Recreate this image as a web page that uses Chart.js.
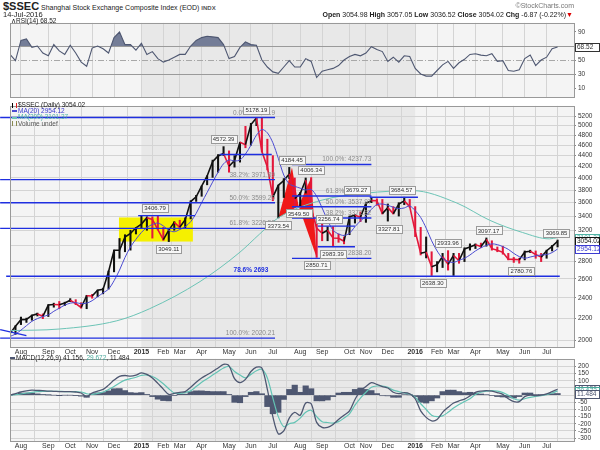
<!DOCTYPE html>
<html>
<head>
<meta charset="utf-8">
<script src="https://cdn.jsdelivr.net/npm/chart.js@4.4.1/dist/chart.umd.min.js"></script>
<style>
body{margin:0;width:600px;height:450px;background:#fff;position:relative;overflow:hidden;font-family:"Liberation Sans",Arial,sans-serif;color:#222}
canvas{position:absolute;left:0}
.t{position:absolute;white-space:nowrap}
.ln{display:inline-block;width:5px;height:2px;vertical-align:middle;margin-right:1px}
.ic{display:inline-block;width:3px;height:5px;vertical-align:middle;margin-right:1px;border-left:1px solid #000;border-right:1px solid #d22}
</style>
</head>
<body>
<canvas id="rsi" width="600" height="86" style="top:17px"></canvas>
<canvas id="price" width="600" height="258" style="top:100px"></canvas>
<canvas id="macd" width="600" height="97" style="top:353px"></canvas>

<div class="t" style="left:3px;top:0;font-size:7px;line-height:12px"><b style="font-size:11px">$SSEC</b> Shanghai Stock Exchange Composite Index (EOD) <b style="font-size:6px;color:#555">INDX</b></div>
<div class="t" style="left:3px;top:10px;font-size:7.5px;line-height:9px">14-Jul-2016</div>
<div class="t" style="right:26px;top:2px;font-size:7px;line-height:8px;color:#777">©StockCharts.com</div>
<div class="t" style="right:27px;top:10px;font-size:7px;line-height:9px"><b>Open</b> 3054.98 <b>High</b> 3057.05 <b>Low</b> 3036.52 <b>Close</b> 3054.02 <b>Chg</b> -6.87 (-0.22%)<span style="color:#d00">▼</span></div>

<div class="t" style="left:11px;top:17px;font-size:6.5px;line-height:8px">∧RSI(14) 68.52</div>
<div class="t" style="left:12px;top:102px;font-size:6.5px;line-height:6.2px">
  <div><span class="ic"></span>$SSEC (Daily) 3054.02</div>
  <div style="color:#3b3bd0"><span class="ln" style="background:#4b4bd2"></span>MA(20) 2954.12</div>
  <div style="color:#4fb3a5"><span class="ln" style="background:#6cc4b6"></span>MA(200) 3101.37</div>
  <div style="color:#555"><span class="ic" style="border-color:#8a8a50"></span>Volume undef</div>
</div>
<div class="t" style="left:10px;top:354px;font-size:6.5px;line-height:8px"><span class="ln" style="background:#4e5771"></span>MACD(12,26,9) 41.156, <span style="color:#4aa99b">29.672</span>, 11.484</div>

<script>
// weekly bars, dated by the last trading day of the week
var weeks = ['2014-07-18','2014-07-25','2014-08-01','2014-08-08','2014-08-15','2014-08-22','2014-08-29','2014-09-05','2014-09-12','2014-09-19','2014-09-26','2014-10-10','2014-10-17','2014-10-24','2014-10-31','2014-11-07','2014-11-14','2014-11-21','2014-11-28','2014-12-05','2014-12-12','2014-12-19','2014-12-26','2014-12-31',
  '2015-01-09','2015-01-16','2015-01-23','2015-01-30','2015-02-06','2015-02-13','2015-02-27','2015-03-06','2015-03-13','2015-03-20','2015-03-27','2015-04-03','2015-04-10','2015-04-17','2015-04-24','2015-04-30','2015-05-08','2015-05-15','2015-05-22','2015-05-29','2015-06-05','2015-06-12','2015-06-19','2015-06-26','2015-07-03','2015-07-10','2015-07-17','2015-07-24','2015-07-31','2015-08-07','2015-08-14','2015-08-21','2015-08-28','2015-09-02','2015-09-11','2015-09-18','2015-09-25','2015-09-30','2015-10-16','2015-10-23','2015-10-30','2015-11-06','2015-11-13','2015-11-20','2015-11-27','2015-12-04','2015-12-11','2015-12-18','2015-12-25','2015-12-31',
  '2016-01-08','2016-01-15','2016-01-22','2016-01-29','2016-02-05','2016-02-19','2016-02-26','2016-03-04','2016-03-11','2016-03-18','2016-03-25','2016-04-01','2016-04-08','2016-04-15','2016-04-22','2016-04-29','2016-05-06','2016-05-13','2016-05-20','2016-05-27','2016-06-03','2016-06-08','2016-06-17','2016-06-24','2016-07-01','2016-07-08','2016-07-14'];
var monthNames = ['Jan','Feb','Mar','Apr','May','Jun','Jul','Aug','Sep','Oct','Nov','Dec'];

var closes = [2059,2126,2186,2188,2226,2240,2217,2326,2331,2329,2347,2374,2341,2302,2420,2418,2478,2487,2683,2938,2938,3108,3157,3234,
  3285,3376,3351,3210,3076,3203,3310,3241,3349,3617,3691,3863,4034,4287,4394,4441,4205,4308,4657,4611,5023,5166,4478,4192,3686,3877,3957,4070,3664,3744,3965,3508,3232,3160,3200,3097,3093,3053,3391,3412,3383,3590,3632,3630,3436,3525,3434,3578,3627,3539,
  3186,2901,2917,2738,2763,2861,2767,2874,2810,2955,2979,3009,2985,3078,2959,2938,2913,2828,2826,2822,2917,2927,2885,2854,2933,2988,3054.02];
var highs = [2070,2130,2210,2200,2230,2248,2240,2330,2345,2362,2355,2391,2380,2350,2425,2435,2480,2500,2690,2940,3090,3140,3200,3240,
  3400,3390,3390,3406.79,3240,3210,3320,3340,3375,3630,3715,3865,4037,4317,4420,4572.39,4490,4400,4660,4986,5051,5178.19,5164,4720,4400,3880,3990,4184.45,4000,3760,4000,4006.34,3360,3310,3250,3250,3150,3110,3400,3420,3460,3596,3679.27,3660,3650,3580,3540,3600,3684.57,3650,
  3540,3240,3110,2920,2800,2900,2933.96,2900,2900,2970,3020,3020,3030,3097.17,3060,2980,2990,2900,2850,2840,2930,2940,2930,2900,2940,3000,3069.85];
var lows = [2040,2052,2140,2160,2180,2220,2195,2215,2305,2290,2320,2360,2330,2295,2290,2395,2410,2440,2490,2680,2840,2920,2940,3150,
  3230,3200,3095,3205,3065,3049.11,3200,3220,3230,3360,3620,3700,3885,4010,4100,4400,4100,4190,4280,4550,4600,5000,4470,4140,3630,3373.54,3680,3990,3537,3549.5,3750,3490,2850.71,3060,3060,2983.39,3040,3020,3140,3300,3320,3310,3600,3560,3430,3327.81,3430,3400,3570,3530,
  3115,2880,2844,2638.3,2680,2730,2700,2638.96,2780,2800,2940,2960,2970,2990,2940,2920,2890,2820,2790,2780.76,2820,2910,2840,2800,2840,2930,2980];
var ma20 = [2035,2055,2090,2130,2170,2195,2215,2230,2265,2295,2325,2345,2350,2340,2345,2370,2410,2450,2490,2580,
  2700,2850,2980,3080,3170,3240,3280,3300,3260,3200,3180,3210,3250,3320,3440,3600,3760,3930,4100,4250,
  4320,4300,4320,4430,4600,4800,4920,4850,4650,4350,4050,3900,3860,3830,3800,3810,3700,3520,3340,3200,
  3150,3130,3160,3250,3330,3400,3500,3570,3580,3560,3530,3510,3520,3550,3480,3380,3230,3060,2930,2840,
  2800,2790,2815,2840,2880,2930,2970,3000,3020,3010,2985,2950,2900,2860,2840,2855,2870,2880,2885,2910,2954.12];
var ma200At = [0,9,19.5,25.5,34.7,42,45.6,49,57,65,73.5,81.6,87.6,93.6,98.5,100];
var ma200 = [2086,2100,2175,2290,2571,2915,3150,3375,3640,3749,3790,3595,3340,3170,3085,3101.37];

var rsi = [58,49,78,80,68,70,60,56,72,63,58,71,60,47,41,67,70,66,60,82,90,72,72,64,74,58,62,52,47,50,
  54,58,58,70,78,82,84,83,82,72,52,55,68,76,72,71,50,40,33,31,40,49,40,40,52,48,25,34,36,38,
  42,50,55,58,56,60,69,65,62,48,54,47,56,55,38,30,27,27,35,43,48,38,46,51,58,59,57,56,59,48,
  49,35,34,36,52,57,42,50,54,66,68.52];
var macd = [0,10,22,30,35,33,31,28,27,25,25,25,22,15,-10,15,28,40,70,105,131,137,133,140,156,145,120,82,42,5,
  12,20,25,55,90,120,142,165,190,215,205,115,87,110,165,195,190,40,-150,-270,-250,-160,-120,-140,-55,-60,-190,-225,-225,-205,
  -170,-140,-110,-30,30,60,87,75,60,50,20,10,18,10,-25,-110,-155,-180,-170,-120,-85,-55,-40,-28,-5,20,28,31,28,18,
  5,-25,-45,-45,-10,0,-4,0,9,25,41.156];
var signal = [0,3,8,15,20,24,26,27,27,26,25,25,24,22,10,5,12,22,40,60,85,105,115,125,138,140,130,110,80,45,
  15,12,18,30,60,90,115,140,165,190,200,165,140,120,145,170,180,120,-20,-150,-220,-200,-190,-160,-120,-105,-150,-185,-191,-195,
  -185,-160,-130,-70,-20,20,55,64,64,55,35,25,15,8,-15,-60,-100,-140,-150,-145,-120,-90,-65,-45,-25,5,20,28,31,28,
  18,0,-25,-35,-25,-15,-8,-4,3,15,29.672];
var hist = [0,7,14,15,15,9,5,1,0,-1,0,0,-2,-7,-15,10,16,18,30,45,46,32,18,15,18,5,-10,-28,-38,-40,
  -3,8,7,25,30,30,27,25,25,25,5,-50,-53,-10,20,25,10,-80,-130,-120,-30,40,70,20,65,45,-40,-40,-34,-10,
  15,20,20,40,50,40,32,11,-4,-5,-15,-15,3,2,-10,-50,-55,-40,-20,25,35,35,25,17,20,15,8,3,-3,-10,
  -13,-15,-20,-10,15,15,4,4,6,10,11.484];

var priceTicks = [2000,2200,2400,2600,2800,3000,3200,3400,3600,3800,4000,4200,4400,4600,4800,5000,5200];
var rsiTicks = [10,30,50,70,90];
var macdTicks = [-300,-250,-200,-150,-100,-50,0,50,100,150,200];

// drawn studies: [fromWeek, level, toWeek, level]
var trendLines = [
  [-1.8,5178.19,48.4,5178.19],[-1.8,3971.89,48.4,3971.89],[-1.8,3599.20,48.4,3599.20],[-1.8,3226.52,48.4,3226.52],
  [-1.8,2020.21,48.4,2020.21],[-0.7,2630,100.4,2630],[-1.8,2095,3,2042],[23.4,3406.79,33.8,3406.79],[38.3,4420,47.8,4420],
  [51.5,4237.73,66,4237.73],[51.5,3703.12,66,3703.12],[51.5,3537.97,66,3537.97],[51.5,3372.82,66,3372.82],[51.5,2838.20,66,2838.20],
  [56.2,3256.74,63,3256.74],[56.2,2983.39,63,2983.39],[65.7,3684.57,74.5,3684.57]
];
var fibTexts = [
  [48.4,5178.19,'0.0%: 5178.19'],[48.4,3971.89,'38.2%: 3971.89'],[48.4,3599.20,'50.0%: 3599.20'],[48.4,3226.52,'61.8%: 3226.52'],
  [48.4,2020.21,'100.0%: 2020.21'],[66,4237.73,'100.0%: 4237.73'],[66,3703.12,'61.8%: 3703.12'],[66,3537.97,'50.0%: 3537.97'],
  [66,3372.82,'38.2%: 3372.82'],[66,2838.20,'0.0%: 2838.20']
];
// pivot labels: week, price, side (1 above, -1 below)
var pivots = [
  [45,5178.19,1],[39,4572.39,1],[26.5,3406.79,1],[29,3049.11,-1],[49,3373.54,-1],[51.5,4184.45,1],[55,4006.34,1],
  [52.7,3549.50,-1],[56,2850.71,-1],[58.2,3256.74,1],[59,2983.39,-1],[63.3,3679.27,1],[71.5,3684.57,1],[69.2,3327.81,-1],
  [77.2,2638.30,-1],[80,2933.96,1],[87.4,3097.17,1],[93.4,2780.76,-1],[99.8,3069.85,1]
];
var harmonic = [[49,3373.54],[51.5,4184.45],[52.7,3549.5],[55,4006.34],[56,2850.71]];
var zone = [19.9,33.4,3050,3380];

var F = '"Liberation Sans", Arial, sans-serif';
var RED = '#e3173a', BLUE = '#1f2fe0';

var monthTicks = [], monthText = {};
weeks.forEach(function (w, i) {
  if (i && w.slice(5, 7) !== weeks[i - 1].slice(5, 7)) {
    var m = +w.slice(5, 7);
    monthTicks.push(i);
    monthText[i] = m === 1 ? w.slice(0, 4) : monthNames[m - 1];
  }
});
var y2015 = weeks.findIndex(function (w) { return w.startsWith('2015'); });
var y2016 = weeks.findIndex(function (w) { return w.startsWith('2016'); });

function xScale(show, h) {
  return {
    type: 'linear', min: 0, max: 103, offset: false,
    afterBuildTicks: function (s) { s.ticks = monthTicks.map(function (v) { return { value: v }; }); },
    afterFit: function (s) { s.height = h; },
    grid: { color: '#d4d4d4', drawTicks: false },
    border: { display: false },
    ticks: {
      display: show, autoSkip: false, maxRotation: 0, padding: 1, color: '#333',
      font: function (c) {
        var t = c.tick ? monthText[c.tick.value] : '';
        return { family: F, size: 7, weight: /^\d{4}$/.test(t || '') ? 'bold' : 'normal' };
      },
      callback: function (v) { return monthText[v] || ''; }
    }
  };
}
function yScale(min, max, list, extra) {
  var s = {
    position: 'right', min: min, max: max,
    afterBuildTicks: function (sc) { sc.ticks = list.map(function (v) { return { value: v }; }); },
    afterFit: function (sc) { sc.width = 26; },
    border: { display: false },
    grid: { color: '#d4d4d4', tickLength: 2, tickColor: '#888' },
    ticks: { color: '#333', padding: 2, autoSkip: false, font: { family: F, size: 6.5 }, callback: function (v) { return String(v); } }
  };
  return Object.assign(s, extra || {});
}
function baseOptions(pad, ys, h, showX) {
  return {
    responsive: false, animation: false, devicePixelRatio: 1,
    layout: { padding: pad },
    plugins: { legend: { display: false }, tooltip: { enabled: false } },
    scales: { x: xScale(showX, h), y: ys }
  };
}

function box(c, x, y, text, stroke, color) {
  c.font = '6px ' + F;
  var w = Math.round(c.measureText(text).width + 4), h = 8;
  var l = Math.round(x - w / 2), t = Math.round(y - h / 2);
  c.fillStyle = '#f7f7f7';
  c.fillRect(l, t, w, h);
  c.strokeStyle = stroke; c.lineWidth = 1;
  c.strokeRect(l + 0.5, t + 0.5, w, h);
  c.fillStyle = color; c.textAlign = 'center'; c.textBaseline = 'middle';
  c.fillText(text, x, y + 0.5);
}

var shade = {
  id: 'shade',
  beforeDraw: function (chart) {
    var a = chart.chartArea, c = chart.ctx, x = chart.scales.x;
    c.save();
    c.fillStyle = '#f4f4f4';
    c.fillRect(a.left, a.top, a.width, a.height);
    var x0 = x.getPixelForValue(y2015), x1 = x.getPixelForValue(y2016);
    c.fillStyle = '#e8e8e8';
    c.fillRect(x0, a.top, x1 - x0, a.height);
    c.restore();
  },
  afterDraw: function (chart) {
    var a = chart.chartArea, c = chart.ctx;
    c.save();
    c.strokeStyle = '#999'; c.lineWidth = 1;
    c.strokeRect(Math.round(a.left) + 0.5, Math.round(a.top) + 0.5, Math.round(a.width), Math.round(a.height));
    c.restore();
  }
};
function axisTags(list) {
  return {
    id: 'axisTags',
    afterDraw: function (chart) {
      var c = chart.ctx, y = chart.scales.y;
      c.save();
      list.forEach(function (t) {
        var py = Math.round(y.getPixelForValue(t[0]));
        c.fillStyle = '#fff';
        c.fillRect(575, py - 4, 25, 8);
        c.strokeStyle = t[2]; c.lineWidth = 1;
        c.strokeRect(575.5, py - 3.5, 24, 8);
        c.fillStyle = t[2]; c.font = '6.5px ' + F; c.textAlign = 'left'; c.textBaseline = 'middle';
        c.fillText(t[1], 577, py + 0.5);
      });
      c.restore();
    }
  };
}

var rsiLines = {
  id: 'rsiLines',
  beforeDatasetsDraw: function (chart) {
    var a = chart.chartArea, c = chart.ctx, y = chart.scales.y;
    c.save();
    c.lineWidth = 1;
    [70, 30, 50].forEach(function (v) {
      var py = Math.round(y.getPixelForValue(v)) + 0.5;
      c.strokeStyle = v === 50 ? '#a8a8a8' : '#9a9a9a';
      c.setLineDash(v === 50 ? [6, 2, 1, 2] : []);
      c.beginPath(); c.moveTo(a.left, py); c.lineTo(a.right, py); c.stroke();
    });
    c.restore();
  }
};

var marks = {
  id: 'marks',
  beforeDatasetsDraw: function (chart) {
    var c = chart.ctx, x = chart.scales.x, y = chart.scales.y;
    c.save();
    var l = x.getPixelForValue(zone[0]), r = x.getPixelForValue(zone[1]);
    var t = y.getPixelForValue(zone[3]), b = y.getPixelForValue(zone[2]);
    c.fillStyle = '#f5f000';
    c.fillRect(l, t, r - l, b - t);
    c.fillStyle = '#f01818';
    [[0, 1, 2], [2, 3, 4]].forEach(function (tri) {
      c.beginPath();
      tri.forEach(function (k, j) {
        var px = x.getPixelForValue(harmonic[k][0]), py = y.getPixelForValue(harmonic[k][1]);
        if (j) c.lineTo(px, py); else c.moveTo(px, py);
      });
      c.closePath(); c.fill();
    });
    c.restore();
  },
  afterDatasetsDraw: function (chart) {
    var c = chart.ctx, x = chart.scales.x, y = chart.scales.y;
    c.save();
    c.strokeStyle = BLUE; c.lineWidth = 1.4;
    trendLines.forEach(function (ln) {
      c.beginPath();
      c.moveTo(x.getPixelForValue(ln[0]), y.getPixelForValue(ln[1]));
      c.lineTo(x.getPixelForValue(ln[2]), y.getPixelForValue(ln[3]));
      c.stroke();
    });
    c.font = '6.5px ' + F; c.fillStyle = '#8a8a8a'; c.textAlign = 'right'; c.textBaseline = 'bottom';
    fibTexts.forEach(function (f) {
      c.fillText(f[2], x.getPixelForValue(f[0]), y.getPixelForValue(f[1]) - 1.5);
    });
    c.font = 'bold 6.5px ' + F; c.fillStyle = BLUE; c.textAlign = 'center'; c.textBaseline = 'middle';
    c.fillText('78.6% 2693', x.getPixelForValue(44), y.getPixelForValue(2696));
    pivots.forEach(function (p) {
      box(c, x.getPixelForValue(p[0]), y.getPixelForValue(p[1]) - p[2] * 7.5, p[1].toFixed(2), '#9a9a9a', '#333');
    });
    c.restore();
  }
};

function pts(arr) { return arr.map(function (v, i) { return { x: i, y: v }; }); }

new Chart(document.getElementById('rsi'), {
  type: 'line',
  data: { datasets: [{
    data: pts(rsi), borderColor: '#4e5771', borderWidth: 1.1, pointRadius: 0,
    fill: { target: { value: 70 }, above: '#747d97', below: 'rgba(0,0,0,0)' }
  }] },
  options: baseOptions({ left: 10, right: 0, top: 2, bottom: 3 },
    yScale(-3, 103, rsiTicks, { grid: { drawOnChartArea: false, tickLength: 2, tickColor: '#888' } }), 0, false),
  plugins: [shade, rsiLines, axisTags([[68.52, '68.52', '#333']])]
});

new Chart(document.getElementById('price'), {
  type: 'line',
  data: { datasets: [
    { type: 'bar', data: highs.map(function (h, i) { return { x: i, y: [lows[i], h] }; }),
      backgroundColor: closes.map(function (v, i) { return i && v < closes[i - 1] ? RED : '#111'; }),
      barThickness: 1.4, order: 4 },
    { data: pts(closes), borderColor: '#111', borderWidth: 1.6, pointRadius: 0, order: 3,
      segment: { borderColor: function (s) { return s.p1.parsed.y < s.p0.parsed.y ? RED : '#111'; } } },
    { data: ma200At.map(function (v, i) { return { x: v, y: ma200[i] }; }), borderColor: '#6cc4b6', borderWidth: 1,
      pointRadius: 0, cubicInterpolationMode: 'monotone', order: 2 },
    { data: pts(ma20), borderColor: '#4b4bd2', borderWidth: 1, pointRadius: 0, tension: 0.3, order: 1 }
  ] },
  options: baseOptions({ left: 10, right: 0, top: 1, bottom: 1 },
    yScale(1945, 5440, priceTicks, { type: 'logarithmic' }), 10, true),
  plugins: [shade, marks, axisTags([[3101.37, '3101.37', '#4fb3a5'], [3054.02, '3054.02', '#111'], [2954.12, '2954.12', '#3b3bd0']])]
});

new Chart(document.getElementById('macd'), {
  type: 'line',
  data: { datasets: [
    { type: 'bar', data: pts(hist), backgroundColor: '#4e5771', barThickness: 5.5, order: 3 },
    { data: pts(signal), borderColor: '#63c3b4', borderWidth: 1.2, pointRadius: 0, tension: 0.3, order: 2 },
    { data: pts(macd), borderColor: '#4e5771', borderWidth: 1.3, pointRadius: 0, tension: 0.3, order: 1 }
  ] },
  options: baseOptions({ left: 10, right: 0, top: 2, bottom: 0 }, yScale(-320, 253, macdTicks), 9, true),
  plugins: [shade, axisTags([[41.156, '41.156', '#4e5771'], [29.672, '29.672', '#4aa99b'], [11.484, '11.484', '#4e5771']])]
});
</script>
</body>
</html>
